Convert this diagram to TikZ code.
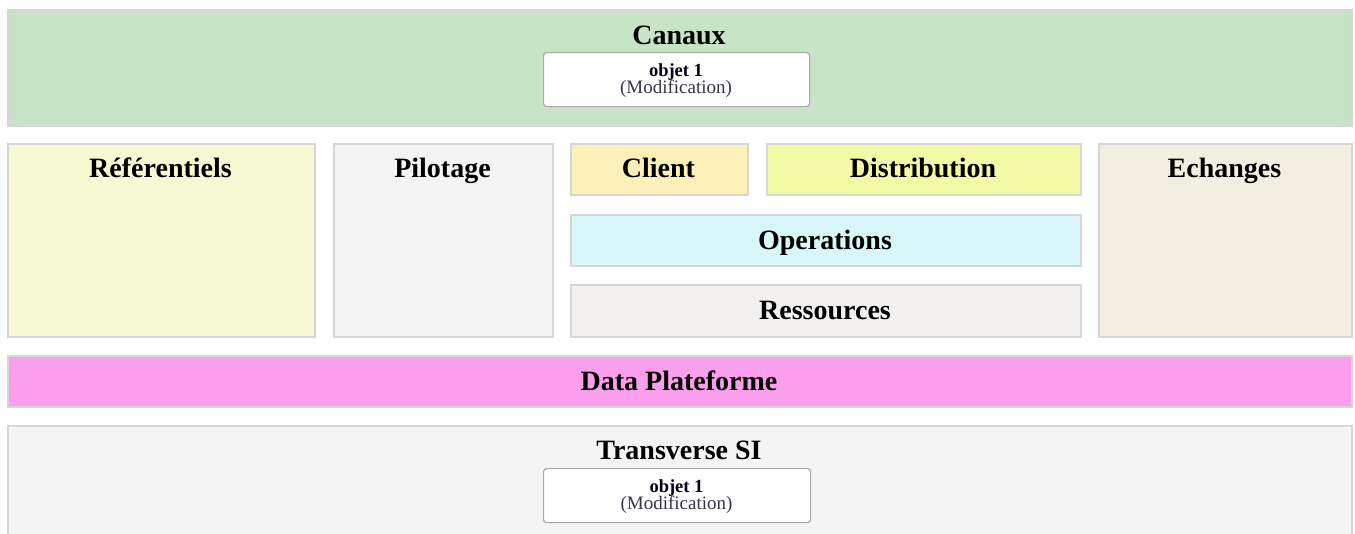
\documentclass[tikz,border=0pt]{standalone}
\usepackage{fontspec}
\setmainfont{Liberation Serif}
\definecolor{bordergray}{HTML}{D6D6D6}
\definecolor{innergray}{HTML}{A8A8A8}
\definecolor{canauxfill}{HTML}{C8E4C6}
\definecolor{reffill}{HTML}{F7F8D4}
\definecolor{pilfill}{HTML}{F4F4F4}
\definecolor{clientfill}{HTML}{FDF1B9}
\definecolor{distfill}{HTML}{F3F9A4}
\definecolor{opsfill}{HTML}{D7F7F8}
\definecolor{resfill}{HTML}{F3F0F0}
\definecolor{echfill}{HTML}{F3EFE0}
\definecolor{datafill}{HTML}{FB9EEC}
\definecolor{transfill}{HTML}{F4F4F4}
\definecolor{modifcol}{HTML}{3A3448}
\tikzset{
  zone/.style={draw=bordergray, line width=1.5pt, anchor=north west, inner sep=0pt},
  objbox/.style={draw=innergray, fill=white, line width=1.2pt, rounded corners=3pt, anchor=north west, inner sep=0pt, minimum width=266pt, minimum height=54pt},
  ttl/.style={anchor=base, inner sep=0pt, font=\fontsize{28}{32}\selectfont\bfseries},
  objtxt/.style={anchor=base, inner sep=0pt, font=\fontsize{18.5}{22}\selectfont\bfseries, text=black!90!blue},
  modtxt/.style={anchor=base, inner sep=0pt, font=\fontsize{19}{22}\selectfont, text=modifcol}
}
\begin{document}
\begin{tikzpicture}[x=1pt,y=-1pt]
\fill[white] (0,0) rectangle (1355,533);
\useasboundingbox (0,0) rectangle (1355,533);
\clip (0,0) rectangle (1355,533);
% Canaux
\node[zone, fill=canauxfill, minimum width=1344pt, minimum height=116pt] (canaux) at (7,9) {};
\node[ttl] (canauxT) at (679,44) {Canaux};
\node[objbox] (obj1) at (543,52) {};
\node[objtxt] (obj1a) at (676,76) {objet 1};
\node[modtxt] (obj1b) at (676,93) {(Modification)};
% middle row
\node[zone, fill=reffill, minimum width=307pt, minimum height=193pt] (ref) at (7,143) {};
\node[ttl] (refT) at (160.5,177) {Référentiels};
\node[zone, fill=pilfill, minimum width=219pt, minimum height=193pt] (pil) at (333,143) {};
\node[ttl] (pilT) at (442.5,177) {Pilotage};
\node[zone, fill=clientfill, minimum width=177pt, minimum height=51pt] (client) at (570,143) {};
\node[ttl] (clientT) at (658.5,177) {Client};
\node[zone, fill=distfill, minimum width=314pt, minimum height=51pt] (dist) at (766,143) {};
\node[ttl] (distT) at (923,177) {Distribution};
\node[zone, fill=opsfill, minimum width=510pt, minimum height=51pt] (ops) at (570,214) {};
\node[ttl] (opsT) at (825,249) {Operations};
\node[zone, fill=resfill, minimum width=510pt, minimum height=52pt] (res) at (570,284) {};
\node[ttl] (resT) at (825,319) {Ressources};
\node[zone, fill=echfill, minimum width=253pt, minimum height=193pt] (ech) at (1098,143) {};
\node[ttl] (echT) at (1224.5,177) {Echanges};
% Data plateforme
\node[zone, fill=datafill, minimum width=1344pt, minimum height=51pt] (data) at (7,355) {};
\node[ttl] (dataT) at (679,390) {Data Plateforme};
% Transverse SI
\node[zone, fill=transfill, minimum width=1344pt, minimum height=130pt] (trans) at (7,425) {};
\node[ttl] (transT) at (679,459) {Transverse SI};
\node[objbox, minimum width=267pt] (obj2) at (543,468) {};
\node[objtxt] (obj2a) at (676.5,492) {objet 1};
\node[modtxt] (obj2b) at (676.5,509) {(Modification)};
\end{tikzpicture}
\end{document}
